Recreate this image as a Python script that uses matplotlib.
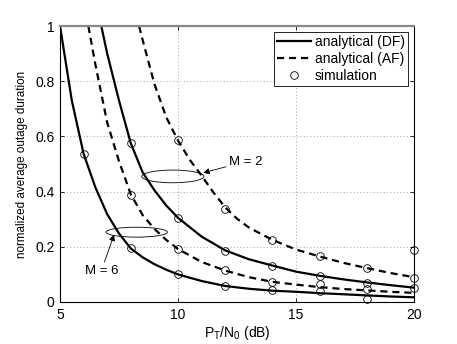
import matplotlib
matplotlib.use("Agg")
import matplotlib.pyplot as plt
from matplotlib.patches import Ellipse

plt.rcParams['font.family'] = ['Liberation Sans', 'DejaVu Sans']
plt.rcParams['mathtext.default'] = 'regular'

# ---- analytical curves ----
x_df_m6 = [5.0, 5.5, 6.0, 6.5, 7.0, 7.5, 8.0, 8.5, 9.0, 9.5, 10, 11, 12, 13, 14, 15, 16, 17, 18, 19, 20]
y_df_m6 = [1.0, 0.73, 0.537, 0.415, 0.318, 0.248, 0.194, 0.162, 0.137, 0.117, 0.100, 0.076, 0.058, 0.048, 0.041, 0.037, 0.032, 0.028, 0.024, 0.020, 0.017]

x_af_m6 = [6.2, 6.5, 7.0, 7.5, 8.0, 8.5, 9.0, 9.5, 10, 11, 12, 13, 14, 15, 16, 17, 18, 19, 20]
y_af_m6 = [1.0, 0.86, 0.65, 0.51, 0.39, 0.315, 0.265, 0.225, 0.192, 0.145, 0.114, 0.090, 0.073, 0.063, 0.054, 0.047, 0.042, 0.037, 0.033]

x_df_m2 = [6.75, 7.0, 7.5, 8.0, 8.5, 9.0, 9.5, 10, 11, 12, 13, 14, 15, 16, 17, 18, 19, 20]
y_df_m2 = [1.0, 0.90, 0.73, 0.575, 0.47, 0.405, 0.35, 0.305, 0.237, 0.187, 0.155, 0.132, 0.110, 0.095, 0.082, 0.071, 0.061, 0.052]

x_af_m2 = [8.35, 8.5, 9.0, 9.5, 10, 10.5, 11, 11.5, 12, 12.5, 13, 14, 15, 16, 17, 18, 19, 20]
y_af_m2 = [1.0, 0.95, 0.79, 0.67, 0.585, 0.515, 0.458, 0.397, 0.343, 0.302, 0.270, 0.225, 0.190, 0.165, 0.142, 0.123, 0.105, 0.090]

# ---- simulation points ----
sx_df_m6 = [6, 8, 10, 12, 14, 16, 18]
sy_df_m6 = [0.537, 0.194, 0.100, 0.059, 0.044, 0.040, 0.011]
sx_af_m6 = [8, 10, 12, 14, 16, 18]
sy_af_m6 = [0.387, 0.192, 0.116, 0.072, 0.064, 0.046]
sx_df_m2 = [8, 10, 12, 14, 16, 18, 20]
sy_df_m2 = [0.575, 0.305, 0.186, 0.132, 0.095, 0.070, 0.052]
sx_af_m2 = [10, 12, 14, 16, 18, 20, 20]
sy_af_m2 = [0.587, 0.338, 0.225, 0.167, 0.123, 0.088, 0.187]

legend_labels = ['analytical (DF)', 'analytical (AF)', 'simulation']
x_ticks = [5, 10, 15, 20]
y_ticks = [0, 0.2, 0.4, 0.6, 0.8, 1.0]
y_tick_labels = ['0', '0.2', '0.4', '0.6', '0.8', '1']

fig = plt.figure(figsize=(4.57, 3.44), dpi=100)
ax = fig.add_axes([0.1313, 0.1221, 0.7746, 0.8023])

lw = 1.6
dash = (3.2, 2.2)
h1, = ax.plot(x_df_m6, y_df_m6, color='black', lw=lw)
ax.plot(x_df_m2, y_df_m2, color='black', lw=lw)
h2, = ax.plot(x_af_m6, y_af_m6, color='black', lw=lw, linestyle=(0, dash))
ax.plot(x_af_m2, y_af_m2, color='black', lw=lw, linestyle=(0, dash))

mk = dict(linestyle='none', marker='o', markersize=5.5, markerfacecolor='none',
          markeredgecolor='black', markeredgewidth=0.6, clip_on=False)
h3, = ax.plot(sx_df_m6, sy_df_m6, **mk)
ax.plot(sx_af_m6, sy_af_m6, **mk)
ax.plot(sx_df_m2, sy_df_m2, **mk)
ax.plot(sx_af_m2, sy_af_m2, **mk)

# annotations
ax.add_patch(Ellipse((9.78, 0.455), 2.64, 0.046, fill=False, edgecolor='black', lw=0.6))
ax.add_patch(Ellipse((8.25, 0.253), 2.6, 0.036, fill=False, edgecolor='black', lw=0.6))
ax.annotate('M = 2', xy=(11.07, 0.468), xytext=(12.15, 0.509), fontsize=9.5,
            va='center', ha='left',
            arrowprops=dict(arrowstyle='-|>', color='black', lw=0.6, mutation_scale=9,
                            shrinkA=0, shrinkB=0))
ax.annotate('M = 6', xy=(7.29, 0.244), xytext=(6.06, 0.113), fontsize=9.5,
            va='center', ha='left',
            arrowprops=dict(arrowstyle='-|>', color='black', lw=0.6, mutation_scale=9,
                            shrinkA=0, shrinkB=0, relpos=(0.55, 1.0)))

ax.set_xlim(5, 20)
ax.set_ylim(0, 1)
ax.set_xticks(x_ticks)
ax.set_yticks(y_ticks)
ax.set_yticklabels(y_tick_labels)
ax.tick_params(direction='in', top=True, right=True, labelsize=10, length=3, width=0.6, pad=4)
ax.grid(True, linestyle=(0, (1, 3)), color='#888888', linewidth=0.6)
for s in ['left', 'right', 'bottom']:
    ax.spines[s].set_linewidth(0.8)
ax.spines['top'].set_color('#888888')
ax.spines['top'].set_linewidth(1.6)

ax.set_xlabel(r'$P_T/N_0$ (dB)', fontsize=10, labelpad=2)
ax.set_ylabel('normalized average outage duration', fontsize=8.4, labelpad=5)

leg = ax.legend([h1, h2, h3], legend_labels, loc='upper right', fontsize=10,
                frameon=True, fancybox=False, edgecolor='black', framealpha=1,
                borderaxespad=0.4, handlelength=2.4, handletextpad=0.3,
                borderpad=0.25, labelspacing=0.2)
leg.get_frame().set_linewidth(0.6)

fig.savefig('out.png', dpi=100)
